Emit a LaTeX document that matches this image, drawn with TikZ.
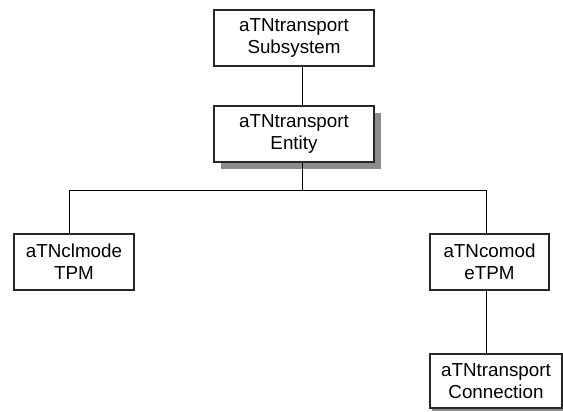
\documentclass[tikz,border=0pt]{standalone}
\usepackage{fontspec}
\setmainfont{Liberation Sans}
\usetikzlibrary{shadows}

\tikzset{
  block/.style={draw=black!85, line width=1.1pt, fill=white, align=center,
    inner sep=0pt, minimum height=56pt, font=\fontsize{18.8}{22}\selectfont},
  shade block/.style={block, drop shadow={shadow xshift=7pt, shadow yshift=-7pt,
    fill=black!45, opacity=1}},
  wire/.style={black, line width=1pt}
}

\begin{document}
\begin{tikzpicture}[x=1pt, y=-1pt]
    \useasboundingbox (0,0) rectangle (563,412);

    \node[block, minimum width=160pt] (sub) at (294,38) {aTNtransport\\Subsystem};
    \node[shade block, minimum width=160pt] (ent) at (294,134) {aTNtransport\\Entity};
    \node[block, minimum width=120pt] (clm) at (74,262) {aTNclmode\\TPM};
    \node[block, minimum width=119pt] (com) at (489.5,262) {aTNcomod\\eTPM};
    \node[block, minimum width=132pt, minimum height=54pt,
      drop shadow={shadow xshift=2pt, shadow yshift=-2.5pt, fill=black!45, opacity=1}]
      (con) at (496,381) {aTNtransport\\Connection};

    % tree lines
    \coordinate (fork) at (302,190);
    \coordinate (lj) at (69,190);
    \coordinate (rj) at (486,190);

    \draw[wire] (sub.south -| fork) -- (ent.north -| fork);
    \draw[wire] (ent.south -| fork) -- (fork);
    \draw[wire] (lj) -- (rj);
    \draw[wire] (lj) -- (clm.north -| lj);
    \draw[wire] (rj) -- (com.north -| rj);
    \draw[wire] (com.south -| rj) -- (con.north -| rj);
\end{tikzpicture}
\end{document}
